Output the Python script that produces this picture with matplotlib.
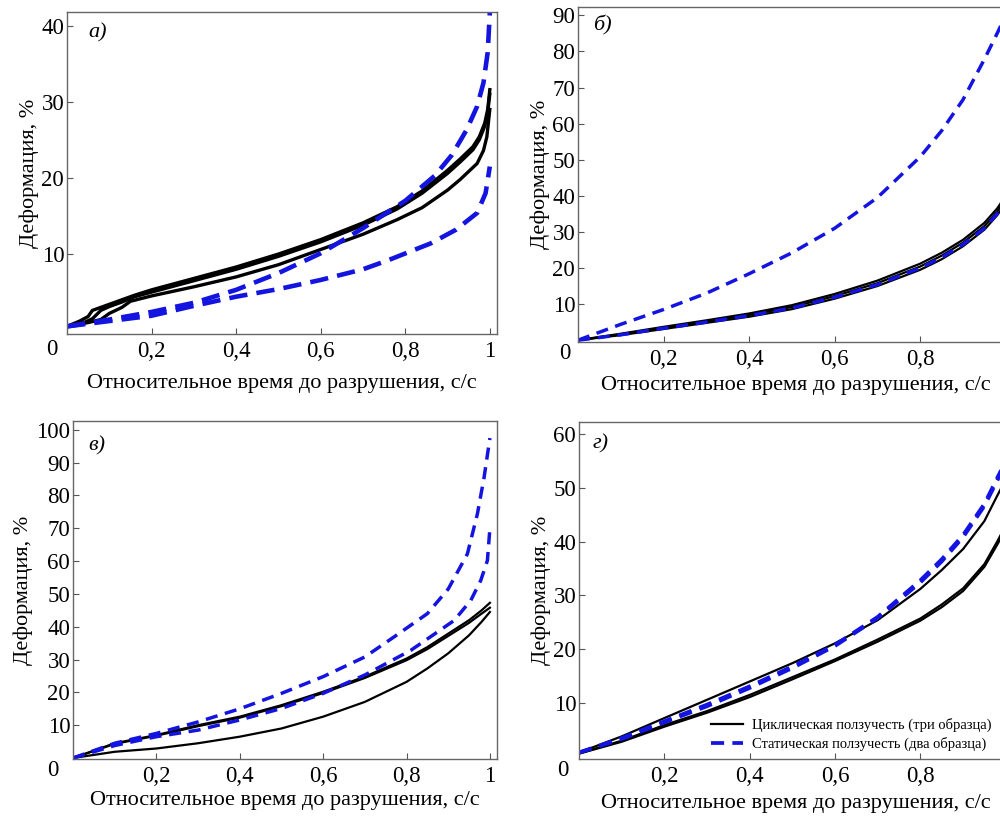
"""Creep curves: strain vs relative time to rupture, cyclic vs static creep (4 panels)."""
import numpy as np
import matplotlib; matplotlib.use("Agg"); import matplotlib.pyplot as plt
from matplotlib.lines import Line2D

plt.rcParams["font.family"] = ["Liberation Serif", "DejaVu Serif"]

BLUE = "#1414e0"
XLABEL = "Относительное время до разрушения, с/с"
YLABEL = "Деформация, %"
xtick_vals = [0.2, 0.4, 0.6, 0.8, 1.0]
xtick_text = ["0,2", "0,4", "0,6", "0,8", "1"]

# ---- panel а ----
a_t1 = [0, 0.03, 0.05, 0.06, 0.08, 0.12, 0.16, 0.2, 0.3, 0.4, 0.5, 0.6, 0.7, 0.78, 0.84, 0.9, 0.93, 0.96, 0.975, 0.988, 0.995, 1.0]
a_c1 = [0.5, 1.2, 1.8, 2.6, 3.0, 3.8, 4.6, 5.3, 6.8, 8.3, 10.0, 11.9, 14.1, 16.2, 18.3, 21.0, 22.5, 24.1, 25.4, 27.2, 29.0, 31.6]
a_t2 = [0, 0.04, 0.06, 0.08, 0.1, 0.13, 0.16, 0.2, 0.3, 0.4, 0.5, 0.6, 0.7, 0.78, 0.84, 0.9, 0.93, 0.96, 0.975, 0.988, 0.995, 1.0]
a_c2 = [0.5, 1.0, 1.5, 2.6, 3.1, 3.7, 4.4, 5.0, 6.5, 8.0, 9.7, 11.6, 13.8, 15.9, 18.0, 20.6, 22.1, 23.7, 25.0, 26.8, 28.6, 31.0]
a_t3 = [0, 0.05, 0.08, 0.1, 0.13, 0.15, 0.2, 0.3, 0.4, 0.5, 0.6, 0.7, 0.78, 0.84, 0.9, 0.93, 0.97, 0.985, 0.993, 1.0]
a_c3 = [0.5, 1.0, 1.4, 2.2, 3.0, 3.8, 4.5, 5.7, 7.0, 8.6, 10.6, 12.6, 14.5, 16.1, 18.4, 19.8, 21.9, 23.6, 25.4, 29.0]
a_ts1 = [0, 0.1, 0.2, 0.3, 0.4, 0.5, 0.6, 0.7, 0.8, 0.87, 0.91, 0.945, 0.97, 0.985, 0.995, 1.0]
a_s1 = [0.5, 1.4, 2.4, 3.6, 5.3, 7.5, 10.1, 13.4, 17.0, 20.3, 23.0, 26.3, 29.4, 32.5, 36.5, 41.7]
a_ts2 = [0, 0.1, 0.2, 0.3, 0.4, 0.5, 0.6, 0.7, 0.76, 0.86, 0.92, 0.97, 0.99, 1.0]
a_s2 = [0.5, 1.2, 1.9, 3.2, 4.4, 5.4, 6.6, 8.0, 9.2, 11.4, 13.2, 15.4, 18.0, 21.5]

# ---- panel б ----
b_t = [0, 0.1, 0.2, 0.3, 0.4, 0.5, 0.6, 0.7, 0.8, 0.85, 0.9, 0.95, 0.98, 1.0]
b_c1 = [0, 1.8, 3.7, 5.5, 7.4, 9.7, 12.8, 16.5, 21.2, 24.2, 27.8, 32.5, 36.5, 40.0]
b_c2 = [0, 1.6, 3.4, 5.2, 7.0, 9.2, 12.2, 15.8, 20.4, 23.4, 27.0, 31.6, 35.6, 39.0]
b_c3 = [0, 1.4, 3.1, 4.8, 6.5, 8.6, 11.5, 15.0, 19.5, 22.4, 26.0, 30.6, 34.6, 38.0]
b_s1 = [0, 4.4, 8.5, 13.0, 18.4, 24.2, 31.0, 39.5, 50.8, 58.0, 66.6, 77.8, 85.0, 90.0]
b_s2 = [0, 1.5, 3.3, 5.0, 6.8, 8.9, 11.9, 15.4, 20.0, 22.9, 26.5, 31.0, 35.0, 38.5]

# ---- panel в ----
c_t = [0, 0.1, 0.2, 0.3, 0.4, 0.5, 0.6, 0.7, 0.8, 0.85, 0.9, 0.95, 0.98, 1.0]
c_c1 = [0, 4.5, 7.0, 10.0, 12.6, 16.1, 20.2, 24.8, 30.3, 33.8, 37.9, 42.0, 45.0, 47.3]
c_c2 = [0, 4.3, 6.8, 9.7, 12.3, 15.8, 19.8, 24.4, 29.8, 33.2, 37.2, 41.2, 44.0, 45.8]
c_c3 = [0, 1.9, 2.9, 4.5, 6.5, 9.0, 12.6, 17.1, 23.2, 27.3, 31.9, 37.4, 41.5, 44.5]
c_ts1 = [0, 0.1, 0.2, 0.3, 0.4, 0.5, 0.6, 0.7, 0.77, 0.85, 0.9, 0.946, 0.97, 0.986, 1.0]
c_s1 = [0, 4.5, 7.5, 11.0, 15.0, 19.7, 24.8, 30.8, 36.9, 44.0, 51.5, 62.2, 74.4, 85.5, 97.5]
c_ts2 = [0, 0.1, 0.2, 0.3, 0.4, 0.5, 0.6, 0.7, 0.81, 0.857, 0.914, 0.954, 0.978, 0.994, 1.0]
c_s2 = [0, 3.8, 6.5, 8.5, 11.6, 15.1, 19.7, 25.3, 32.8, 36.9, 41.9, 48.0, 54.1, 60.2, 70.0]

# ---- panel г ----
d_t = [0, 0.1, 0.2, 0.3, 0.4, 0.5, 0.6, 0.7, 0.8, 0.85, 0.9, 0.95, 0.98, 1.0]
d_c1 = [0.8, 3.8, 7.2, 10.6, 14.0, 17.4, 21.1, 25.4, 31.2, 34.7, 38.6, 43.8, 48.5, 51.5]
d_c2 = [0.6, 3.0, 5.9, 8.5, 11.5, 14.8, 18.1, 21.8, 25.7, 28.3, 31.3, 35.8, 40.0, 43.0]
d_c3 = [0.6, 2.8, 5.6, 8.2, 11.1, 14.4, 17.8, 21.4, 25.3, 27.8, 30.8, 35.3, 39.4, 42.3]
d_s1 = [0.8, 3.5, 6.6, 9.7, 13.1, 16.8, 20.8, 26.0, 32.8, 36.7, 41.2, 47.0, 51.8, 55.0]
d_s2 = [0.8, 3.3, 6.4, 9.4, 12.8, 16.5, 20.6, 25.8, 32.4, 36.3, 40.8, 46.6, 51.3, 54.5]

fig = plt.figure(figsize=(10, 8.17), dpi=100)
W, H = 1000, 817

def make_ax(left, top, right, bottom):
    return fig.add_axes([left / W, 1 - bottom / H, (right - left) / W, (bottom - top) / H])

panels = [
    dict(rect=(67, 12, 497, 334), ylim=(-0.5, 41.8), yt=[10, 20, 30, 40], lab="а)",
         labpos=(88, 33), zero=(52, 349), lw=2.4, slw=3.3, dash=(4, 2), xpad=9),
    dict(rect=(578, 7, 1013, 342), ylim=(-0.5, 92.3), yt=list(range(10, 100, 10)), lab="б)",
         labpos=(593, 25), zero=(565, 353), lw=1.6, slw=2.5, dash=(3.5, 2.2), xpad=4),
    dict(rect=(73, 421, 497, 759), ylim=(-0.3, 102.7), yt=list(range(10, 110, 10)), lab="в)",
         labpos=(88, 446), zero=(53, 771), lw=1.6, slw=2.5, dash=(3.5, 2.2), xpad=3),
    dict(rect=(579, 422, 1013, 759), ylim=(-0.4, 62.2), yt=[10, 20, 30, 40, 50, 60], lab="г)",
         labpos=(593, 444), zero=(563, 771), lw=1.6, slw=2.7, dash=(3.5, 2.2), xpad=5),
]

cyc = [[(a_t1, a_c1), (a_t2, a_c2), (a_t3, a_c3)],
       [(b_t, b_c1), (b_t, b_c2), (b_t, b_c3)],
       [(c_t, c_c1), (c_t, c_c2), (c_t, c_c3)],
       [(d_t, d_c1), (d_t, d_c2), (d_t, d_c3)]]
stat = [[(a_ts1, a_s1), (a_ts2, a_s2)],
        [(b_t, b_s1), (b_t, b_s2)],
        [(c_ts1, c_s1), (c_ts2, c_s2)],
        [(d_t, d_s1), (d_t, d_s2)]]

for p, cc, ss in zip(panels, cyc, stat):
    l, t, r, b = p["rect"]
    ax = make_ax(l, t, r, b)
    for x, y in cc:
        ax.plot(x, y, color="black", lw=p["lw"], solid_joinstyle="round")
    for x, y in ss:
        ax.plot(x, y, color=BLUE, lw=p["slw"], ls=(0, p["dash"]))
    ax.set_xlim(0, 1.017)
    ax.set_ylim(*p["ylim"])
    ax.set_xticks(xtick_vals); ax.set_xticklabels(xtick_text)
    ax.set_yticks(p["yt"])
    ax.tick_params(direction="in", length=4, width=0.8, color="#555555", labelsize=16.5, pad=5)
    ax.tick_params(axis="y", pad=2)
    for s in ax.spines.values():
        s.set_color("#666666"); s.set_linewidth(1.0)
    ax.set_xlabel(XLABEL, fontsize=16, labelpad=p["xpad"])
    ax.set_ylabel(YLABEL, fontsize=16, labelpad=2)
    fig.text(p["labpos"][0] / W, 1 - p["labpos"][1] / H, p["lab"], fontsize=16,
             style="italic", va="center", ha="left")
    fig.text(p["zero"][0] / W, 1 - p["zero"][1] / H, "0", fontsize=16.5, va="center", ha="center")

# legend in panel г
handles = [Line2D([], [], color="black", lw=1.6),
           Line2D([], [], color=BLUE, lw=2.7, ls=(0, (3.5, 2.2)))]
fig.legend(handles, ["Циклическая ползучесть (три образца)", "Статическая ползучесть (два образца)"],
           loc="lower right", bbox_to_anchor=(1.0, 1 - 760 / H), frameon=False, fontsize=10.5,
           handlelength=2.2, handletextpad=0.6, labelspacing=0.35, borderaxespad=0.2)

plt.savefig("out.png", dpi=100)
